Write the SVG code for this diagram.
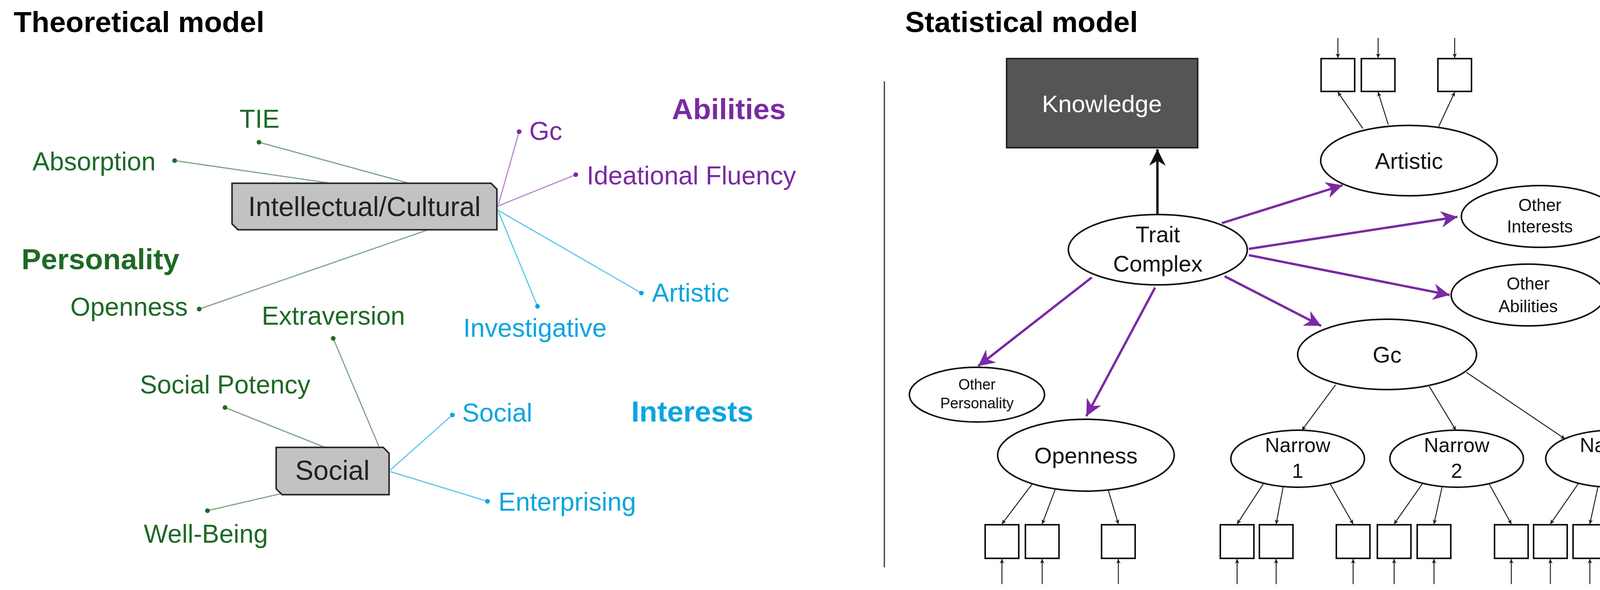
<svg xmlns="http://www.w3.org/2000/svg" width="4328" height="1510" viewBox="0 0 4328 1510">
<style>
text{font-family:"Liberation Sans",Arial,sans-serif}
.t{font-weight:bold;font-size:75px;fill:#000}
.g{fill:#1d6a25;font-size:66px}.p{fill:#7a2aa3;font-size:66px}.c{fill:#0aa5df;font-size:66px}
.h{font-weight:bold;font-size:75px}
.gl{stroke:#82a583;stroke-width:3;fill:none}.pl{stroke:#b88bd2;stroke-width:3;fill:none}.cl{stroke:#5cc6ec;stroke-width:3;fill:none}
.box{fill:#c2c2c2;stroke:#2a2a2a;stroke-width:4}
.el{fill:#fff;stroke:#111;stroke-width:4}
.sq{fill:#fff;stroke:#111;stroke-width:4}
.k{stroke:#222;stroke-width:2.5;fill:none;marker-end:url(#ak)}
.pa{stroke:#7a2aa3;stroke-width:6;fill:none;marker-end:url(#ap)}
.m{text-anchor:middle;fill:#111}
</style>
<defs>
<marker id="ak" viewBox="0 0 10 10" refX="10" refY="5" markerWidth="11" markerHeight="11" markerUnits="userSpaceOnUse" orient="auto"><path d="M0,0 L10,5 L0,10 L3,5 Z" fill="#111" transform="scale(1)"/></marker>
<marker id="ap" viewBox="0 0 10 10" refX="10" refY="5" markerWidth="7" markerHeight="7" orient="auto"><path d="M0,0 L10,5 L0,10 L3,5 Z" fill="#7a2aa3"/></marker>
<marker id="ab" viewBox="0 0 10 10" refX="10" refY="5" markerWidth="7" markerHeight="7" orient="auto"><path d="M0,0 L10,5 L0,10 L3,5 Z" fill="#111"/></marker>
</defs>
<style>#ak path{}</style>

<text class="t" x="35" y="82">Theoretical model</text>
<text class="t" x="2317" y="82">Statistical model</text>
<line x1="2264" y1="208" x2="2264" y2="1452" stroke="#333" stroke-width="3"/>

<g id="connectors-left">
<line class="gl" x1="663" y1="364" x2="1047" y2="469"/>
<line class="gl" x1="447" y1="411" x2="846" y2="469"/>
<line class="gl" x1="510" y1="791" x2="1096" y2="588"/>
<line class="pl" x1="1329" y1="337" x2="1276" y2="523"/>
<line class="pl" x1="1474" y1="447" x2="1273" y2="528"/>
<line class="cl" x1="1642" y1="750" x2="1273" y2="537"/>
<line class="cl" x1="1376" y1="784" x2="1276" y2="542"/>
<line class="gl" x1="853" y1="866" x2="971" y2="1145"/>
<line class="gl" x1="576" y1="1043" x2="832" y2="1145"/>
<line class="gl" x1="531" y1="1307" x2="721" y2="1263"/>
<line class="cl" x1="1158" y1="1062" x2="999" y2="1203"/>
<line class="cl" x1="1248" y1="1283" x2="999" y2="1207"/>
<g fill="#1d6a25"><circle cx="663" cy="364" r="6"/><circle cx="447" cy="411" r="6"/><circle cx="510" cy="791" r="6"/><circle cx="853" cy="866" r="6"/><circle cx="576" cy="1043" r="6"/><circle cx="531" cy="1307" r="6"/></g>
<g fill="#7a2aa3"><circle cx="1329" cy="337" r="6"/><circle cx="1474" cy="447" r="6"/></g>
<g fill="#0aa5df"><circle cx="1642" cy="750" r="6"/><circle cx="1376" cy="784" r="6"/><circle cx="1158" cy="1062" r="6"/><circle cx="1248" cy="1283" r="6"/></g>
</g>

<g id="intellectual"><path class="box" d="M594,469 H1257 L1272,484 V588 H609 L594,573 Z"/><text x="933" y="553" font-size="70" text-anchor="middle" fill="#222">Intellectual/Cultural</text></g>
<g id="social-box"><path class="box" d="M707,1145 H981 L996,1160 V1266 H722 L707,1251 Z"/><text x="851" y="1228" font-size="70" text-anchor="middle" fill="#222">Social</text></g>

<g id="labels-left">
<text class="g" x="613" y="327">TIE</text>
<text class="g" x="83" y="436">Absorption</text>
<text class="g" x="180" y="808">Openness</text>
<text class="g" x="670" y="831">Extraversion</text>
<text class="g" x="358" y="1007">Social Potency</text>
<text class="g" x="368" y="1389">Well-Being</text>
<text class="g h" x="55" y="689">Personality</text>
<text class="p" x="1355" y="358">Gc</text>
<text class="p" x="1502" y="472">Ideational Fluency</text>
<text class="p h" x="1720" y="305">Abilities</text>
<text class="c" x="1669" y="772">Artistic</text>
<text class="c" x="1186" y="862">Investigative</text>
<text class="c" x="1183" y="1079">Social</text>
<text class="c" x="1276" y="1307">Enterprising</text>
<text class="c h" x="1616" y="1079">Interests</text>
</g>

<g id="knowledge"><rect x="2577" y="150" width="489" height="228" fill="#555" stroke="#222" stroke-width="4"/><text x="2821" y="287" font-size="62" text-anchor="middle" fill="#fff">Knowledge</text></g>
<g id="trait"><ellipse class="el" cx="2964" cy="639" rx="229" ry="90"/><text class="m" x="2964" y="620" font-size="58">Trait</text><text class="m" x="2964" y="695" font-size="58">Complex</text></g>
<g id="artistic"><ellipse class="el" cx="3607" cy="411" rx="226" ry="90"/><text class="m" x="3607" y="432" font-size="58">Artistic</text></g>
<g id="other-interests"><ellipse class="el" cx="3942" cy="554" rx="201" ry="79"/><text class="m" x="3942" y="540" font-size="44">Other</text><text class="m" x="3942" y="595" font-size="44">Interests</text></g>
<g id="other-abilities"><ellipse class="el" cx="3912" cy="755" rx="197" ry="79"/><text class="m" x="3912" y="741" font-size="44">Other</text><text class="m" x="3912" y="799" font-size="44">Abilities</text></g>
<g id="gc"><ellipse class="el" cx="3551" cy="907" rx="229" ry="90"/><text class="m" x="3551" y="928" font-size="58">Gc</text></g>
<g id="other-personality"><ellipse class="el" cx="2501" cy="1010" rx="173" ry="70"/><text class="m" x="2501" y="997" font-size="38">Other</text><text class="m" x="2501" y="1045" font-size="38">Personality</text></g>
<g id="openness"><ellipse class="el" cx="2780" cy="1165" rx="226" ry="92"/><text class="m" x="2780" y="1186" font-size="58">Openness</text></g>
<g id="narrow1"><ellipse class="el" cx="3322" cy="1174" rx="171" ry="73"/><text class="m" x="3322" y="1157" font-size="52">Narrow</text><text class="m" x="3322" y="1223" font-size="52">1</text></g>
<g id="narrow2"><ellipse class="el" cx="3729" cy="1174" rx="171" ry="73"/><text class="m" x="3729" y="1157" font-size="52">Narrow</text><text class="m" x="3729" y="1223" font-size="52">2</text></g>
<g id="narrowk"><ellipse class="el" cx="4128" cy="1174" rx="171" ry="73"/><text class="m" x="4128" y="1157" font-size="52">Narrow</text><text class="m" x="4128" y="1223" font-size="52" font-style="italic">k</text></g>

<g id="indicators">
<rect class="sq" x="3382" y="150" width="86" height="84"/><rect class="sq" x="3485" y="150" width="86" height="84"/><rect class="sq" x="3681" y="150" width="86" height="84"/>
<rect class="sq" x="2522" y="1343" width="86" height="86"/><rect class="sq" x="2625" y="1343" width="86" height="86"/><rect class="sq" x="2820" y="1343" width="86" height="86"/>
<rect class="sq" x="3124" y="1343" width="86" height="86"/><rect class="sq" x="3224" y="1343" width="86" height="86"/><rect class="sq" x="3421" y="1343" width="86" height="86"/>
<rect class="sq" x="3526" y="1343" width="86" height="86"/><rect class="sq" x="3628" y="1343" width="86" height="86"/><rect class="sq" x="3826" y="1343" width="86" height="86"/>
<rect class="sq" x="3926" y="1343" width="86" height="86"/><rect class="sq" x="4027" y="1343" width="86" height="86"/><rect class="sq" x="4225" y="1343" width="86" height="86"/>
</g>

<g id="connectors-right">
<line x1="2963" y1="549" x2="2963" y2="382" stroke="#111" stroke-width="6" marker-end="url(#ab)"/>
<line class="pa" x1="3128" y1="571" x2="3437" y2="474"/>
<line class="pa" x1="3197" y1="637" x2="3731" y2="555"/>
<line class="pa" x1="3197" y1="653" x2="3711" y2="755"/>
<line class="pa" x1="3135" y1="707" x2="3382" y2="834"/>
<line class="pa" x1="2795" y1="710" x2="2504" y2="937"/>
<line class="pa" x1="2957" y1="736" x2="2781" y2="1065"/>
<line class="k" x1="3419" y1="985" x2="3333" y2="1101"/>
<line class="k" x1="3659" y1="989" x2="3727" y2="1101"/>
<line class="k" x1="3754" y1="953" x2="4006" y2="1123"/>
<line class="k" x1="3489" y1="329" x2="3425" y2="236"/>
<line class="k" x1="3554" y1="319" x2="3528" y2="236"/>
<line class="k" x1="3683" y1="324" x2="3724" y2="236"/>
<line class="k" x1="3425" y1="97" x2="3425" y2="148"/>
<line class="k" x1="3528" y1="97" x2="3528" y2="148"/>
<line class="k" x1="3724" y1="97" x2="3724" y2="148"/>
<line class="k" x1="2643" y1="1238" x2="2565" y2="1341"/>
<line class="k" x1="2702" y1="1251" x2="2668" y2="1341"/>
<line class="k" x1="2837" y1="1254" x2="2863" y2="1341"/>
<line class="k" x1="3235" y1="1237" x2="3167" y2="1341"/>
<line class="k" x1="3285" y1="1245" x2="3267" y2="1341"/>
<line class="k" x1="3405" y1="1238" x2="3464" y2="1341"/>
<line class="k" x1="3642" y1="1237" x2="3569" y2="1341"/>
<line class="k" x1="3692" y1="1245" x2="3671" y2="1341"/>
<line class="k" x1="3812" y1="1238" x2="3869" y2="1341"/>
<line class="k" x1="4041" y1="1237" x2="3969" y2="1341"/>
<line class="k" x1="4091" y1="1245" x2="4070" y2="1341"/>
<line class="k" x1="4211" y1="1238" x2="4268" y2="1341"/>
<g>
<line class="k" x1="2565" y1="1495" x2="2565" y2="1431"/><line class="k" x1="2668" y1="1495" x2="2668" y2="1431"/><line class="k" x1="2863" y1="1495" x2="2863" y2="1431"/>
<line class="k" x1="3167" y1="1495" x2="3167" y2="1431"/><line class="k" x1="3267" y1="1495" x2="3267" y2="1431"/><line class="k" x1="3464" y1="1495" x2="3464" y2="1431"/>
<line class="k" x1="3569" y1="1495" x2="3569" y2="1431"/><line class="k" x1="3671" y1="1495" x2="3671" y2="1431"/><line class="k" x1="3869" y1="1495" x2="3869" y2="1431"/>
<line class="k" x1="3969" y1="1495" x2="3969" y2="1431"/><line class="k" x1="4070" y1="1495" x2="4070" y2="1431"/><line class="k" x1="4268" y1="1495" x2="4268" y2="1431"/>
</g>
</g>
</svg>
